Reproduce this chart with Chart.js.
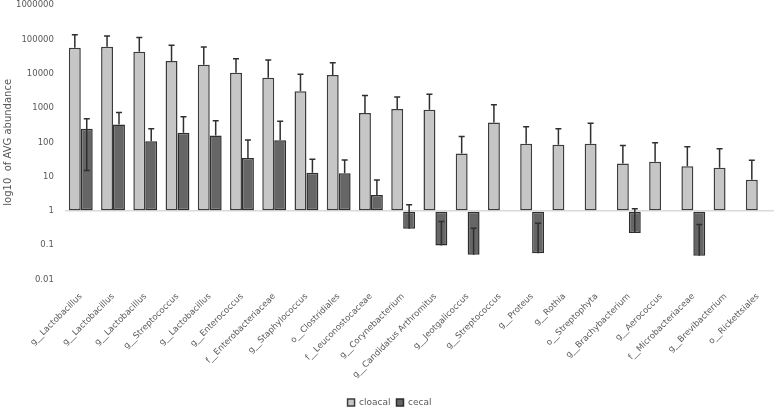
<!DOCTYPE html>
<html>
<head>
<meta charset="utf-8">
<script src="https://cdn.jsdelivr.net/npm/chart.js@4/dist/chart.umd.min.js"></script>
<style>
  body { margin: 0; background: #fff; }
  #wrap { width: 777px; height: 410px; }
</style>
</head>
<body>
<div id="wrap"><canvas id="abundanceChart"></canvas></div>
<script>
// taxa, in the order they appear on the axis
const categories = [
  'g__Lactobacillus', 'g__Lactobacillus', 'g__Lactobacillus', 'g__Streptococcus',
  'g__Lactobacillus', 'g__Enterococcus', 'f__Enterobacteriaceae', 'g__Staphylococcus',
  'o__Clostridiales', 'f__Leuconostocaceae', 'g__Corynebacterium', 'g__Candidatus Arthromitus',
  'g__Jeotgalicoccus', 'g__Streptococcus', 'g__Proteus', 'g__Rothia',
  'o__Streptophyta', 'g__Brachybacterium', 'g__Aerococcus', 'f__Microbacteriaceae',
  'g__Brevibacterium', 'o__Rickettsiales'
];

// average abundance + error (SD)
const cloacalValues = [57000, 61000, 44000, 23500, 18300, 10700, 7600, 3100, 9100, 710, 930, 890,
  47, 375, 91, 85, 91, 24, 27, 20, 18, 8.1];
const cloacalErrors = [80000, 64000, 70000, 44500, 41700, 16800, 17400, 6600, 11900, 1590, 1170, 1610,
  101, 875, 194, 165, 269, 56, 70, 54, 47, 22];

const cecalValues = [250, 333, 108, 190, 158, 35, 114, 13, 12.6, 2.9, 0.30, 0.098,
  0.053, null, 0.058, null, null, 0.225, null, 0.049, null, null];
const cecalErrors = [235, 400, 142, 370, 267, 81, 300, 19, 18, 5, 1.22, 0.39,
  0.26, null, 0.38, null, null, 0.93, null, 0.35, null, null];

const yTicks = [0.01, 0.1, 1, 10, 100, 1000, 10000, 100000, 1000000];

const textColor = '#595959';
const fontFamily = '"DejaVu Sans", Verdana, sans-serif';

// draws the error bars (plus side always, minus side only if it stays > 0)
const errorBarPlugin = {
  id: 'errorBars',
  afterDatasetsDraw(chart) {
    const ctx = chart.ctx;
    const yScale = chart.scales.y;
    chart.data.datasets.forEach(function (ds, i) {
      const meta = chart.getDatasetMeta(i);
      if (meta.hidden) return;
      meta.data.forEach(function (bar, j) {
        const v = ds.data[j];
        const e = ds.errors[j];
        if (v == null || e == null) return;
        const x = bar.x;
        const yVal = yScale.getPixelForValue(v);
        const yHi = yScale.getPixelForValue(v + e);
        ctx.save();
        ctx.strokeStyle = '#2f2f2f';
        ctx.lineWidth = 1.5;
        ctx.beginPath();
        ctx.moveTo(x, yVal);
        ctx.lineTo(x, yHi);
        ctx.moveTo(x - 3, yHi);
        ctx.lineTo(x + 3, yHi);
        if (v - e > 0) {
          const yLo = yScale.getPixelForValue(v - e);
          ctx.moveTo(x, yVal);
          ctx.lineTo(x, yLo);
          ctx.moveTo(x - 3, yLo);
          ctx.lineTo(x + 3, yLo);
        }
        ctx.stroke();
        ctx.restore();
      });
    });
  }
};

document.addEventListener('DOMContentLoaded', function () {
  const ctx = document.getElementById('abundanceChart').getContext('2d');

  const data = {
    labels: categories,
    datasets: [
      {
        label: 'cloacal',
        data: cloacalValues,
        errors: cloacalErrors,
        backgroundColor: '#c6c6c6',
        borderColor: '#3c3c3c',
        borderWidth: 1.5,
        borderSkipped: false,
        base: 1
      },
      {
        label: 'cecal',
        data: cecalValues,
        errors: cecalErrors,
        backgroundColor: '#666666',
        borderColor: '#2e2e2e',
        borderWidth: 1.5,
        borderSkipped: false,
        base: 1
      }
    ]
  };

  const options = {
    responsive: true,
    maintainAspectRatio: false,
    animation: false,
    layout: { padding: { top: 1, right: 0, left: 2, bottom: -7 } },
    datasets: {
      bar: { categoryPercentage: 0.74, barPercentage: 1.0 }
    },
    scales: {
      x: {
        grid: { display: false, drawTicks: false },
        border: { display: false },
        ticks: {
          color: textColor,
          font: { family: fontFamily, size: 8.5 },
          maxRotation: 45,
          minRotation: 45,
          autoSkip: false,
          padding: 12
        }
      },
      y: {
        type: 'logarithmic',
        min: 0.01,
        max: 1000000,
        afterBuildTicks: function (scale) {
          scale.ticks = yTicks.map(function (v) { return { value: v }; });
        },
        grid: {
          drawTicks: false,
          lineWidth: 1.5,
          color: function (c) {
            return c.tick && c.tick.value === 1 ? '#d9d9d9' : 'rgba(0,0,0,0)';
          }
        },
        border: { display: false },
        title: {
          display: true,
          text: 'log10  of AVG abundance',
          color: textColor,
          font: { family: fontFamily, size: 10 },
          padding: { top: 0, bottom: 2 }
        },
        ticks: {
          color: textColor,
          font: { family: fontFamily, size: 8.5 },
          padding: 0,
          // trailing spaces give the gap to the plot (tick padding would also pad the top)
          callback: function (value) { return String(value) + '    '; }
        }
      }
    },
    plugins: {
      legend: {
        display: true,
        position: 'bottom',
        labels: {
          boxWidth: 7,
          boxHeight: 7,
          color: textColor,
          font: { family: fontFamily, size: 9 },
          padding: 6
        }
      },
      tooltip: { enabled: false }
    }
  };

  new Chart(ctx, {
    type: 'bar',
    data: data,
    options: options,
    plugins: [errorBarPlugin]
  });
});
</script>
</body>
</html>
